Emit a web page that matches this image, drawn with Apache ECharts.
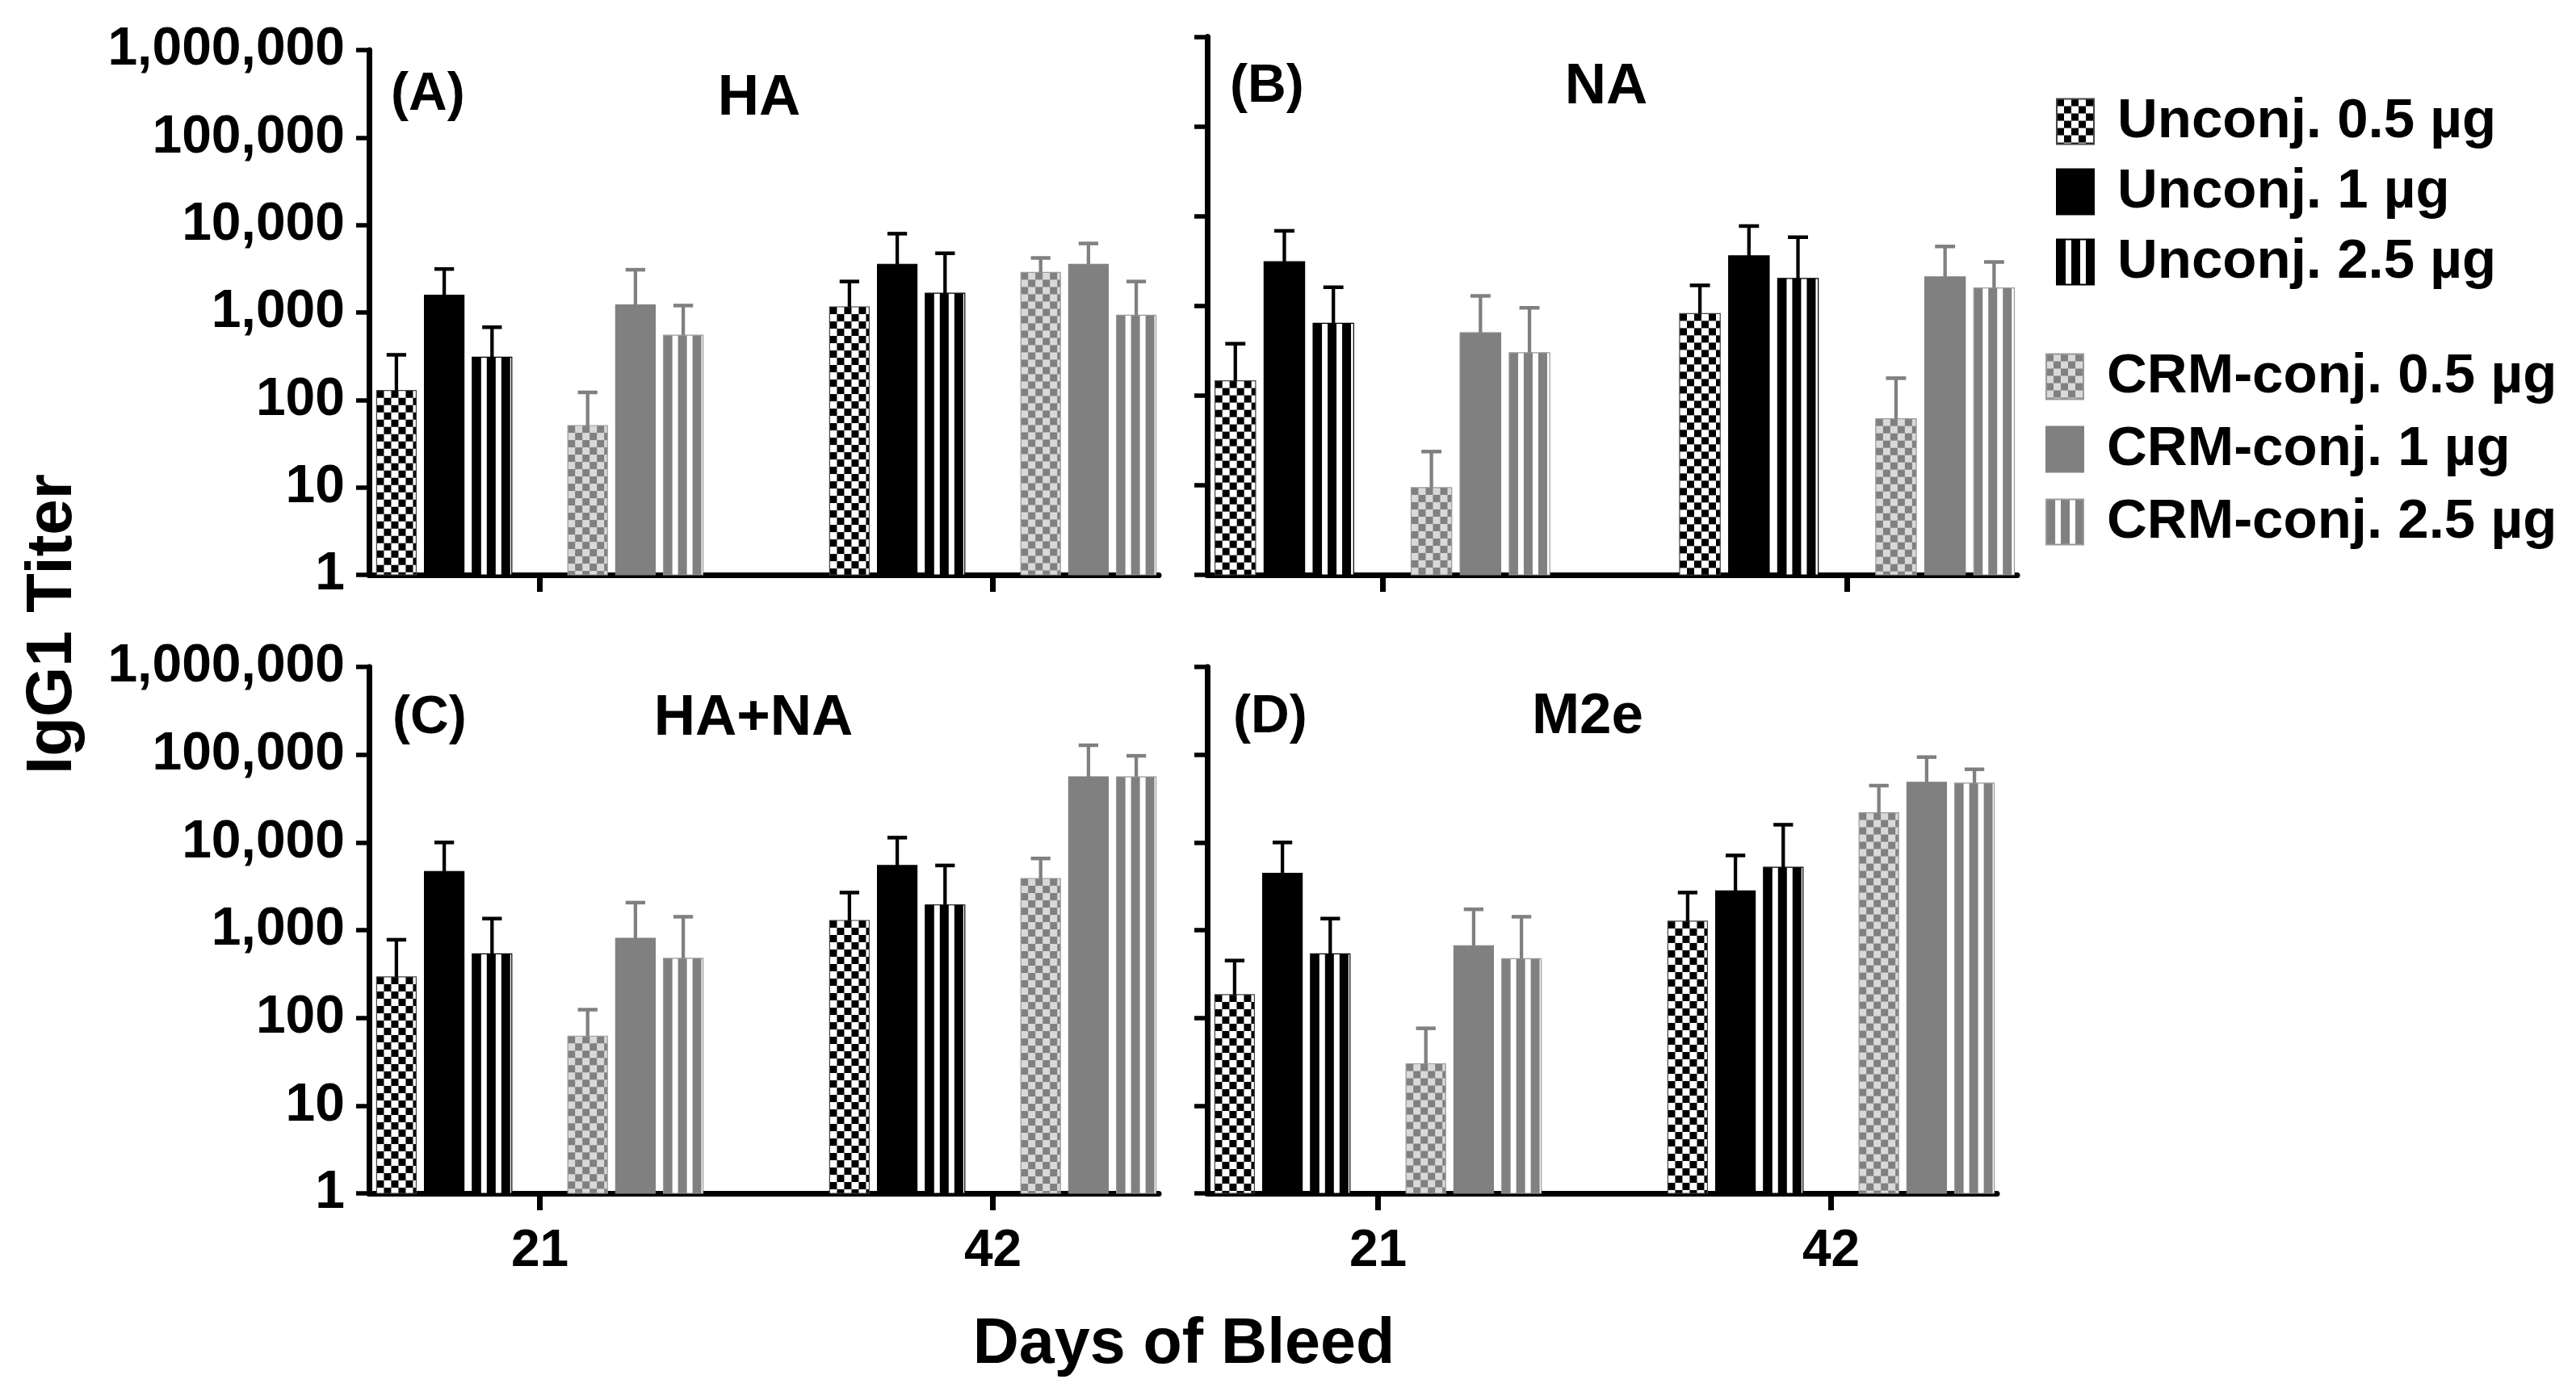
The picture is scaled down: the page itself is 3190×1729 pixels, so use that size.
<!DOCTYPE html>
<html>
<head>
<meta charset="utf-8">
<script src="https://cdn.jsdelivr.net/npm/echarts@6/dist/echarts.min.js"></script>
<style>
html,body{margin:0;padding:0;background:#fff;}
#c{width:3190px;height:1729px;}
</style>
</head>
<body>
<div id="c"></div>
<script>
// ---------------- data ----------------
const days = [21, 42];
const groupNames = ['Unconj. 0.5 µg', 'Unconj. 1 µg', 'Unconj. 2.5 µg',
                    'CRM-conj. 0.5 µg', 'CRM-conj. 1 µg', 'CRM-conj. 2.5 µg'];
const panelLetters = ['(A)', '(B)', '(C)', '(D)'];
const panelTitles = ['HA', 'NA', 'HA+NA', 'M2e'];
const yAxisTitle = 'IgG1 Titer';
const xAxisTitle = 'Days of Bleed';

// mean IgG1 titers: one row per group (order of groupNames), columns = days
const haMean   = [[128, 1160], [1580, 3560], [308, 1660], [51, 2870], [1220, 3560], [550, 930]];
const haSD     = [[200, 1100], [1560, 4400], [370, 3090], [71, 1330], [1860, 2590], [650, 1330]];
const naMean   = [[146, 820], [3100, 3610], [640, 2020], [9.4, 55], [500, 2100], [300, 1580]];
const naSD     = [[232, 870], [3750, 4140], [970, 3800], [14.3, 101], [790, 2490], [650, 1500]];
const hanaMean = [[293, 1290], [4670, 5460], [537, 1940], [62, 3880], [808, 56000], [477, 56000]];
const hanaSD   = [[484, 1390], [5310, 5870], [817, 3520], [62, 2680], [1252, 72000], [944, 41000]];
const m2eMean  = [[184, 1265], [4450, 2810], [537, 5200], [30, 21800], [665, 48400], [473, 47400]];
const m2eSD    = [[266, 1415], [5530, 4290], [817, 10700], [46, 22600], [1062, 45400], [948, 20700]];

const panelMeans = [haMean, naMean, hanaMean, m2eMean];
const panelSDs = [haSD, naSD, hanaSD, m2eSD];

// ---------------- layout / style ----------------
const FONT = '"Liberation Sans", Arial, sans-serif';
const grids = [
  {left: 457, top: 62, width: 978, height: 650},
  {left: 1495, top: 45.5, width: 1003, height: 666.5},
  {left: 457, top: 826, width: 978, height: 652},
  {left: 1495, top: 826, width: 978, height: 652}
];
const X_MIN = 13.083, X_MAX = 49.693;
const SLOT = 2.216;                      // width of one bar slot on the day axis
const slotOffset = [-3, -2, -1, 1, 2, 3]; // slot of each group around the day tick
const BAR_FRAC = 0.828, CAP_FRAC = 0.41;

function pattern(kind, c1, c2) {
  const cv = document.createElement('canvas');
  cv.width = 18; cv.height = 18;
  const ctx = cv.getContext('2d');
  ctx.fillStyle = c2; ctx.fillRect(0, 0, 18, 18);
  ctx.fillStyle = c1;
  if (kind === 'check') { ctx.fillRect(0, 0, 9, 9); ctx.fillRect(9, 9, 9, 9); }
  else { ctx.fillRect(0, 0, 11, 18); }
  return {image: cv, repeat: 'repeat'};
}
const fills = [
  pattern('check', '#000000', '#ffffff'), '#000000', pattern('stripe', '#000000', '#ffffff'),
  pattern('check', '#808080', '#d9d9d9'), '#808080', pattern('stripe', '#808080', '#ffffff')
];
const borders = ['#444444', '#000000', '#000000', '#9a9a9a', '#808080', '#9a9a9a'];
const errColors = ['#000000', '#000000', '#000000', '#808080', '#808080', '#808080'];

function makeRender(g) {
  return function (params, api) {
    const x = api.value(0), v = api.value(1), sd = api.value(2);
    const base = api.coord([x, 1]);
    const top = api.coord([x, v]);
    const whisk = api.coord([x, v + sd]);
    const slotPx = api.coord([x + SLOT / 2, v])[0] - api.coord([x - SLOT / 2, v])[0];
    const w = slotPx * BAR_FRAC, cap = slotPx * CAP_FRAC;
    const cx = base[0];
    return {
      type: 'group',
      children: [
        {type: 'rect', x: cx - w / 2, y: top[1],
         shape: {x: 0, y: 0, width: w, height: base[1] - top[1]},
         style: {fill: fills[g], stroke: borders[g], lineWidth: 1.2}},
        {type: 'line', shape: {x1: cx, y1: top[1], x2: cx, y2: whisk[1]},
         style: {stroke: errColors[g], lineWidth: 4.3}},
        {type: 'line', shape: {x1: cx - cap / 2, y1: whisk[1], x2: cx + cap / 2, y2: whisk[1]},
         style: {stroke: errColors[g], lineWidth: 4.5}}
      ]
    };
  };
}

const series = [];
panelMeans.forEach((means, p) => {
  groupNames.forEach((name, g) => {
    series.push({
      type: 'custom',
      name: name,
      xAxisIndex: p,
      yAxisIndex: p,
      encode: {x: 0, y: 1},
      itemStyle: {color: fills[g], borderColor: borders[g], borderWidth: 1},
      renderItem: makeRender(g),
      data: days.map((d, k) => [d + slotOffset[g] * SLOT, means[g][k], panelSDs[p][g][k]])
    });
  });
});

const letterPos = [[484, 118], [1523, 108], [486, 890], [1527, 889]];
const titlePos = [[940, 122], [1989, 108], [933, 890], [1966, 888]];
const graphic = [];
panelLetters.forEach((t, i) => {
  graphic.push({type: 'text', x: letterPos[i][0], y: letterPos[i][1], z: 100,
    style: {text: t, font: 'bold 66px ' + FONT, fill: '#000', textAlign: 'left', textVerticalAlign: 'middle'}});
  graphic.push({type: 'text', x: titlePos[i][0], y: titlePos[i][1], z: 100,
    style: {text: panelTitles[i], font: 'bold 71px ' + FONT, fill: '#000', textAlign: 'center', textVerticalAlign: 'middle'}});
});
graphic.push({type: 'text', x: 66, y: 773, rotation: Math.PI / 2, z: 100,
  style: {text: yAxisTitle, font: 'bold 80px ' + FONT, fill: '#000', textAlign: 'center', textVerticalAlign: 'middle'}});
graphic.push({type: 'text', x: 1466, y: 1666, z: 100,
  style: {text: xAxisTitle, font: 'bold 79px ' + FONT, fill: '#000', textAlign: 'center', textVerticalAlign: 'middle'}});

const legendText = {fontSize: 69, fontWeight: 'bold', fontFamily: FONT, color: '#000', padding: [0, 0, 0, 24]};

const option = {
  animation: false,
  backgroundColor: '#ffffff',
  grid: grids.map(g => Object.assign({containLabel: false}, g)),
  xAxis: grids.map((g, i) => ({
    gridIndex: i, type: 'value', min: X_MIN, max: X_MAX,
    axisLine: {show: true, onZero: false, lineStyle: {color: '#000', width: 7}},
    axisTick: {show: true, customValues: days, length: 21, lineStyle: {color: '#000', width: 7}},
    axisLabel: {show: i >= 2, customValues: days, margin: 40, fontSize: 64, fontWeight: 'bold', fontFamily: FONT, color: '#000'},
    splitLine: {show: false}
  })),
  yAxis: grids.map((g, i) => ({
    gridIndex: i, type: 'log', logBase: 10, min: 1, max: 1000000,
    axisLine: {show: true, onZero: false, lineStyle: {color: '#000', width: 7}},
    axisTick: {show: true, length: 16, lineStyle: {color: '#000', width: 5.5}},
    axisLabel: {show: i % 2 === 0, margin: 30, fontSize: 66, fontWeight: 'bold', fontFamily: FONT, color: '#000',
      formatter: v => Math.round(v).toLocaleString('en-US')},
    splitLine: {show: false},
    minorTick: {show: false}
  })),
  legend: [
    {data: groupNames.slice(0, 3), left: 2546, top: 116, orient: 'vertical', icon: 'rect',
     itemWidth: 46, itemHeight: 56, itemGap: 18, padding: 0, selectedMode: false, textStyle: legendText},
    {data: groupNames.slice(3), left: 2533, top: 432, orient: 'vertical', icon: 'rect',
     itemWidth: 46, itemHeight: 56, itemGap: 21, padding: 0, selectedMode: false, textStyle: legendText}
  ],
  graphic: graphic,
  series: series
};

const chart = echarts.init(document.getElementById('c'), null, {renderer: 'canvas'});
chart.setOption(option);
</script>
</body>
</html>
